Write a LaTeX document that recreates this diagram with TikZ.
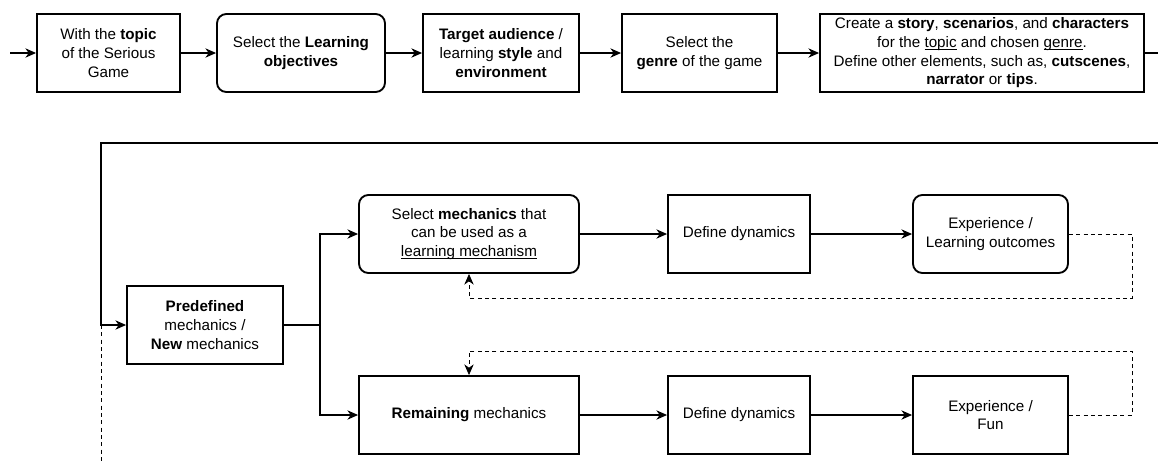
\documentclass[tikz,border=0pt]{standalone}
\usepackage{fontspec}
\setmainfont{Liberation Sans}
\usetikzlibrary{arrows.meta}
\newcommand{\undr}[1]{{\setbox0\hbox{#1}\rlap{\rule[-1.6pt]{\wd0}{0.45pt}}\box0}}

\begin{document}
\begin{tikzpicture}[x=0.75pt, y=-0.75pt,
    every node/.style={font=\fontsize{11.4}{14}\selectfont},
    box/.style={draw, line width=1.4pt, align=center, minimum height=58.5pt, inner sep=2pt},
    rbox/.style={box, rounded corners=7pt},
    arr/.style={line width=0.8pt, -{Stealth[length=8pt, width=7pt, inset=2.5pt]}},
    link/.style={line width=0.8pt},
    fb/.style={arr, line width=0.6pt, dash pattern=on 3pt off 2.5pt}]
    \useasboundingbox (0,0) rectangle (1158,461);

    \node [box, minimum width=107.25pt] (topic) at (108.5,53) {With the \textbf{topic}\\of the Serious\\Game};
    \node [rbox, minimum width=126pt] (obj) at (301,53) {Select the \textbf{Learning}\\\textbf{objectives}};
    \node [box, minimum width=117pt] (aud) at (501,53) {\textbf{Target audience} /\\learning \textbf{style} and\\\textbf{environment}};
    \node [box, minimum width=116.25pt] (genre) at (699.5,53) {Select the\\\textbf{genre} of the game};
    \node [box, minimum width=243pt] (story) at (982,53) {Create a \textbf{story}, \textbf{scenarios}, and \textbf{characters}\\for the \undr{topic} and chosen \undr{genre}.\\Define other elements, such as, \textbf{cutscenes},\\\textbf{narrator} or \textbf{tips}.};

    \node [box, minimum width=117pt, minimum height=59pt] (pre) at (205,325) {\textbf{Predefined}\\mechanics /\\\textbf{New} mechanics};
    \node [rbox, minimum width=165pt] (sel) at (469,234) {Select \textbf{mechanics} that\\can be used as a\\\undr{learning mechanism}};
    \node [box, minimum width=106.5pt] (dyn1) at (739,234) {Define dynamics};
    \node [rbox, minimum width=116.25pt] (exp1) at (990.5,234) {Experience /\\Learning outcomes};
    \node [box, minimum width=165pt] (rem) at (469,415) {\textbf{Remaining} mechanics};
    \node [box, minimum width=106.5pt] (dyn2) at (739,415) {Define dynamics};
    \node [box, minimum width=116.25pt] (exp2) at (990.5,415) {Experience /\\Fun};

    \coordinate (in) at (10,53);
    \coordinate (out) at (1158,53);
    \coordinate (retR) at (1158,143);
    \coordinate (retL) at (101,143);
    \coordinate (join) at (101,325);
    \coordinate (bot) at (101,461);
    \coordinate (split) at (320,325);
    \coordinate (fbA) at (1132,298);
    \coordinate (fbB) at (1132,351);

    \draw [arr] (in) -- (topic);
    \draw [arr] (topic) -- (obj);
    \draw [arr] (obj) -- (aud);
    \draw [arr] (aud) -- (genre);
    \draw [arr] (genre) -- (story);
    \draw [link] (story) -- (out);

    \draw [arr] (retR) -- (retL) |- (pre);
    \draw [link, line width=0.6pt, dash pattern=on 3pt off 2.5pt] (join) -- (bot);

    \draw [link] (pre) -- (split);
    \draw [arr] (split) |- (sel);
    \draw [arr] (split) |- (rem);
    \draw [arr] (sel) -- (dyn1);
    \draw [arr] (dyn1) -- (exp1);
    \draw [arr] (rem) -- (dyn2);
    \draw [arr] (dyn2) -- (exp2);

    \draw [fb] (exp1.east) -| (fbA) -| (sel.south);
    \draw [fb] (exp2.east) -| (fbB) -| (rem.north);
\end{tikzpicture}
\end{document}
